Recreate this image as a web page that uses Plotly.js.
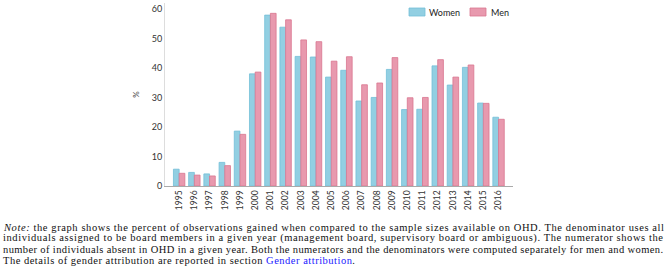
<!DOCTYPE html>
<html><head><meta charset="utf-8">
<script src="https://cdn.plot.ly/plotly-3.0.1.min.js"></script>
<style>body{margin:0;background:#fff}#c{width:664px;height:270px}</style>
</head><body><div id="c"></div>
<script>
const years = ["1995","1996","1997","1998","1999","2000","2001","2002","2003","2004","2005","2006","2007","2008","2009","2010","2011","2012","2013","2014","2015","2016"];
const women = [5.7,4.6,4.1,8.0,18.6,38.0,57.9,53.8,43.9,43.7,36.9,39.2,28.8,30.0,39.5,25.9,26.0,40.7,34.2,40.2,28.1,23.3];
const men = [4.3,3.7,3.4,6.9,17.5,38.6,58.5,56.3,49.5,48.9,42.3,43.8,34.3,34.9,43.5,29.9,30.0,42.8,36.9,41.0,28.0,22.6];
const yTicks = [0,10,20,30,40,50,60];
const seriesNames = ["Women","Men"];
const noteLines = [
  "<i>Note:</i> the graph shows the percent of observations gained when compared to the sample sizes available on OHD. The denominator uses all",
  "individuals assigned to be board members in a given year (management board, supervisory board or ambiguous). The numerator shows the",
  "number of individuals absent in OHD in a given year. Both the numerators and the denominators were computed separately for men and women.",
  "The details of gender attribution are reported in section <span style=\"color:#1a1aff\">Gender attribution</span>."
];
const noteWidths = [660,660,660,352];

const L=165, R=513, T=3, B=186;
const px = x => (x-L)/(R-L);
const py = y => (B-y)/(B-T);

const wCol='#92cfe2', wLine='#73bfd8', mCol='#e899ae', mLine='#d9768f';
const traces = [
  {type:'bar', name:seriesNames[0], x:years, y:women, marker:{color:wCol, line:{color:wLine,width:0.8}}},
  {type:'bar', name:seriesNames[1], x:years, y:men, marker:{color:mCol, line:{color:mLine,width:0.8}}}
];
const annotations = noteLines.map((t,i)=>({
  xref:'paper', yref:'paper', x:px(1), y:py(227+i*11), xanchor:'left', yanchor:'middle',
  text:t, showarrow:false, font:{family:'Liberation Serif, serif', size:10.5, color:'#111'}, align:'left'
}));
annotations.push({xref:'paper',yref:'paper',x:px(427),y:py(12),xanchor:'left',yanchor:'middle',text:seriesNames[0],showarrow:false,font:{family:'Lato, sans-serif',size:9,color:'#222'}});
annotations.push({xref:'paper',yref:'paper',x:px(489),y:py(12),xanchor:'left',yanchor:'middle',text:seriesNames[1],showarrow:false,font:{family:'Lato, sans-serif',size:9,color:'#222'}});
const shapes = [
  {type:'rect',xref:'paper',yref:'paper',x0:px(409),x1:px(425),y0:py(16),y1:py(8),fillcolor:wCol,line:{color:wLine,width:0.8}},
  {type:'rect',xref:'paper',yref:'paper',x0:px(470),x1:px(486),y0:py(16),y1:py(8),fillcolor:mCol,line:{color:mLine,width:0.8}}
];
const layout = {
  width:664, height:270, margin:{l:L, r:664-R, t:T, b:270-B},
  paper_bgcolor:'#fff', plot_bgcolor:'#fff', showlegend:false,
  barmode:'group', bargap:0.25, bargroupgap:0.0,
  font:{family:'Lato, sans-serif', color:'#333'},
  xaxis:{type:'category', range:[-0.93,21.95], tickangle:-90, tickfont:{size:8.5,color:'#333'},
    showline:true, linecolor:'#aaa', linewidth:1, ticks:'', showgrid:false, zeroline:false, fixedrange:true},
  yaxis:{range:[0,62], tickvals:yTicks, ticktext:yTicks.map(String), tickfont:{size:9,color:'#333'},
    showline:true, linecolor:'#ddd', linewidth:1, ticks:'', showgrid:false, zeroline:false,
    title:{text:'%', font:{size:8,color:'#333'}, standoff:10}, fixedrange:true},
  annotations, shapes
};
Plotly.newPlot('c', traces, layout, {staticPlot:true, displayModeBar:false}).then(()=>{
  const texts = document.querySelectorAll('.annotation-text');
  texts.forEach((t,i)=>{
    if(i<noteWidths.length){
      t.setAttribute('textLength', noteWidths[i]);
      t.setAttribute('lengthAdjust','spacing');
    }
  });
});
</script></body></html>
